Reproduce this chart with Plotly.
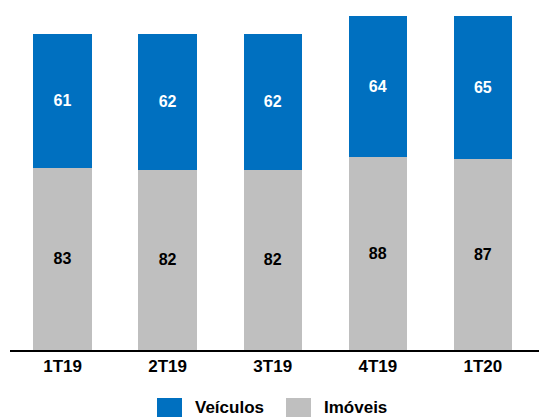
import plotly.graph_objects as go

categories = ["1T19", "2T19", "3T19", "4T19", "1T20"]
imoveis = [83, 82, 82, 88, 87]
veiculos = [61, 62, 62, 64, 65]

BLUE = "#0070C0"
GRAY = "#BFBFBF"
FONT = "Liberation Sans, Arial, sans-serif"

fig = go.Figure()
fig.add_trace(go.Bar(
    x=categories, y=imoveis, name="Imóveis", marker=dict(color=GRAY, line=dict(width=0)),
    text=imoveis, textposition="inside", insidetextanchor="middle",
    textfont=dict(color="black", size=16, family=FONT, weight="bold"),
))
fig.add_trace(go.Bar(
    x=categories, y=veiculos, name="Veículos", marker=dict(color=BLUE, line=dict(width=0)),
    text=veiculos, textposition="inside", insidetextanchor="middle",
    textfont=dict(color="white", size=16, family=FONT, weight="bold"),
))

fig.update_layout(
    barmode="stack",
    bargap=0.445,
    width=547, height=417,
    margin=dict(l=2, r=0, t=0, b=75),
    plot_bgcolor="white", paper_bgcolor="white",
    showlegend=False,
    uniformtext=dict(minsize=16, mode="show"),
    font=dict(family=FONT, color="black"),
)
fig.update_xaxes(
    range=[-0.5, 4.686], showline=True, linecolor="black", linewidth=1.5,
    ticks="outside", ticklen=0, tickcolor="rgba(0,0,0,0)",
    tickfont=dict(size=17, family=FONT, weight="bold", color="black"),
    showgrid=False, zeroline=False,
)
fig.update_yaxes(range=[0, 155.7], visible=False, showgrid=False, zeroline=False)

# custom legend (paper coordinates)
legend_items = [("Veículos", BLUE, 0.2697, 0.3156, 0.3358), ("Imóveis", GRAY, 0.5064, 0.5523, 0.5725)]
for label, color, sx0, sx1, tx in legend_items:
    fig.add_shape(type="rect", xref="paper", yref="paper", x0=sx0, x1=sx1, y0=-0.1404, y1=-0.1988,
                  fillcolor=color, line=dict(width=0))
    fig.add_annotation(xref="paper", yref="paper", x=tx, y=-0.1667, text=f"<b>{label}</b>",
                       showarrow=False, xanchor="left", yanchor="middle",
                       font=dict(size=17, family=FONT, color="black"))

fig.write_html("out.html")
